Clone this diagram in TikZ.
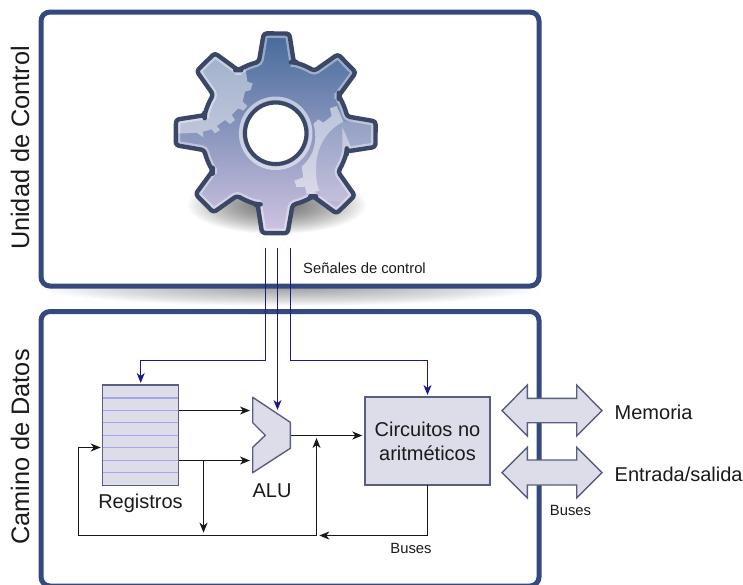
\documentclass[tikz,border=0pt]{standalone}
\usepackage{fontspec}
\setmainfont{Liberation Sans}
\usetikzlibrary{arrows.meta,calc}
\definecolor{boxblue}{HTML}{36497F}
\definecolor{ctrl}{HTML}{1A1A8C}
\definecolor{ink}{HTML}{1A1A1A}
\definecolor{partfill}{HTML}{DCDDE9}
\definecolor{partedge}{HTML}{5A5F80}
\definecolor{regline}{HTML}{A4A4F0}
\definecolor{geardark}{HTML}{3B4766}
\definecolor{geartop}{HTML}{466A9B}
\definecolor{gearmid}{HTML}{8689B4}
\definecolor{gearbot}{HTML}{D0C4E2}
\def\gearpath{({-13.8}:220)
  \foreach \a in {0,45,...,315}{
    -- ({\a-13.8}:220) -- ({\a-7.3}:302) -- ({\a+7.3}:302) -- ({\a+13.8}:220)
    arc[start angle={\a+13.8},end angle={\a+31.2},radius=220]
  } -- cycle}
\tikzset{
  bigbox/.style={draw=boxblue,line width=5pt,rounded corners=9pt,outer sep=0pt},
  part/.style={draw=partedge,fill=partfill,line width=1.4pt,outer sep=0pt},
  ctrlwire/.style={draw=ctrl,line width=1.15pt,-{Stealth[length=10pt,width=8pt,inset=3pt]}},
  wire/.style={draw=black!90,line width=1.15pt,-{Stealth[length=10pt,width=8pt,inset=3pt]}},
  bigtxt/.style={text=ink,font=\fontsize{20}{24}\selectfont,inner sep=0pt},
  sidetxt/.style={text=ink,font=\fontsize{25.3}{30}\selectfont,inner sep=0pt,rotate=90},
  smalltxt/.style={text=ink,font=\fontsize{14.8}{18}\selectfont,inner sep=0pt},
  gearframe/.style={shift={(275.7,133.3)},x=.3333pt,y=.3333pt,rotate=-.5},
  zoomframe/.style={shift={(160,20)},x=.3333pt,y=-.3333pt}
}
\begin{document}
\begin{tikzpicture}[x=1pt,y=-1pt]
\useasboundingbox (0,0) rectangle (743,584);
\clip (0,0) rectangle (743,584);
% shadows
\begin{scope}
  \clip (0,286) rectangle (743,312);
  \foreach \k in {1,...,30}
    \fill[black,opacity=.014] (290,287) ellipse[x radius={250*\k/30},y radius={19*\k/30}];
\end{scope}
\foreach \k in {1,...,30}
  \fill[black,opacity=.026] (277,205) ellipse[x radius={89*\k/30},y radius={29*\k/30}];
% big boxes
\node[bigbox,minimum width=498pt,minimum height=274pt,anchor=north west,inner sep=0pt] (unit) at (41,12) {};
\node[bigbox,minimum width=498pt,minimum height=274.5pt,anchor=north west,inner sep=0pt] (path) at (41,311.5) {};
\node[sidetxt] (unitlabel) at (20,148) {Unidad de Control};
\node[sidetxt] (pathlabel) at (20,447) {Camino de Datos};
% gear
\shade[gearframe,top color=geartop,middle color=gearmid,bottom color=gearbot,rounded corners=3pt] \gearpath;
\begin{scope}
  \clip[gearframe,rounded corners=3pt] \gearpath;
  \begin{scope}[zoomframe]
    % upper left wheel
    \fill[white,opacity=.45] (100,40) -- (240,125) -- (258,155) -- (262,185) -- (278,190) -- (272,210) -- (255,215) -- (248,245) -- (262,258) -- (250,272) -- (235,265) -- (215,285) -- (225,300) -- (210,312) -- (195,300) -- (170,318) -- (180,330) -- (165,340) -- (155,328) -- (128,335) -- (130,352) -- (110,338) -- (75,340) -- (20,340) -- (20,40) -- cycle;
    % lower right wheel
    \fill[white,opacity=.14] (680,300) -- (550,305) .. controls (500,330) and (470,380) .. (468,440) .. controls (468,470) and (470,495) .. (485,540) -- (680,560) -- cycle;
    \fill[white,opacity=.5] (460,312) -- (475,298) -- (490,308) -- (515,288) -- (510,265) -- (530,258) -- (548,300) -- (550,305) .. controls (500,330) and (470,380) .. (468,440) .. controls (468,470) and (470,495) .. (478,512) -- (440,522) -- (435,500) -- (410,502) -- (403,482) -- (430,472) -- (425,440) -- (440,425) .. controls (470,390) and (470,340) .. (460,312) -- cycle;
  \end{scope}
  \draw[gearframe,white,opacity=.4,line width=9pt,rounded corners=3pt] \gearpath;
\end{scope}
\draw[gearframe,geardark,line width=4.4pt,line join=round,rounded corners=3pt] \gearpath;
\draw[white,opacity=.55,line width=3.5pt] (275.7,133.3) circle[radius=35];
\draw[geardark,fill=white,line width=4pt] (275.7,133.3) circle[radius=30.7];
% control signals
\coordinate (sigA) at (265.5,248);
\coordinate (sigB) at (277.5,248);
\coordinate (sigC) at (290.5,248);
\coordinate (regTop) at (140.7,383);
\coordinate (aluTop) at (277.5,410);
\coordinate (circTop) at (427.5,395);
\draw[ctrlwire] (sigA) |- (140.7,360.5) -- (regTop);
\draw[ctrlwire] (sigB) -- (aluTop);
\draw[ctrlwire] (sigC) |- (427.5,360.5) -- (circTop);
\node[smalltxt,anchor=west] (signals) at (303,268) {Señales de control};
% registers
\node[part,minimum width=76pt,minimum height=100.3pt,anchor=north west,inner sep=0pt] (regs) at (102.7,385) {};
\foreach \ly in {398,410.4,422.8,435.3,447.7,460.3,472.7}
  \draw[regline,line width=1.2pt] (103.4,\ly) -- (178,\ly);
\node[bigtxt] (reglabel) at (140.5,503) {Registros};
% ALU
\draw[part,line join=round] (252.7,397.3) coordinate (aluA) -- (290.3,422.3) -- (290.3,448.3) -- (252.7,472.7) -- (252.7,447.3) -- (265.3,435.3) -- (252.7,422.7) -- cycle;
\coordinate (aluIn1) at (250,410.5);
\coordinate (aluIn2) at (250,460.5);
\coordinate (aluOut) at (291,435.5);
\node[bigtxt] (alulabel) at (272,491) {ALU};
% circuits
\node[part,minimum width=125pt,minimum height=88pt,anchor=north west,inner sep=0pt,align=center,text=ink,font=\fontsize{20}{24}\selectfont] (circ) at (365,397) {Circuitos no\\aritméticos};
% data wires
\coordinate (regOut1) at (179,410.5);
\coordinate (regOut2) at (179,460.5);
\coordinate (branch) at (203.5,460.5);
\coordinate (branchEnd) at (203.5,532.7);
\coordinate (regIn) at (100.7,447.5);
\coordinate (loopR) at (316.5,535.5);
\coordinate (loopUp) at (316.5,438);
\coordinate (circIn) at (362.3,435.5);
\coordinate (circBot) at (427.5,485);
\coordinate (retEnd) at (319.3,535.5);
\draw[wire] (regOut1) -- (aluIn1);
\draw[wire] (regOut2) -- (aluIn2);
\draw[wire] (branch) -- (branchEnd);
\draw[wire] (loopR) -- (78.5,535.5) -- (78.5,447.5) -- (regIn);
\draw[wire] (loopR) -- (loopUp);
\draw[wire] (aluOut) -- (circIn);
\draw[wire] (circBot) |- (retEnd);
\node[smalltxt] (busesA) at (411,548) {Buses};
% double arrows
\draw[part,line join=miter] (502,410.7) -- (527.3,385) -- (527.3,398.3) -- (576.7,398.3) -- (576.7,385) -- (602,410.7) -- (576.7,436) -- (576.7,422.7) -- (527.3,422.7) -- (527.3,436) -- cycle;
\draw[part,line join=miter] (502,472.7) -- (527.3,447.3) -- (527.3,460) -- (576.7,460) -- (576.7,447.3) -- (602,472.7) -- (576.7,498) -- (576.7,485) -- (527.3,485) -- (527.3,498) -- cycle;
\node[bigtxt,anchor=west] (mem) at (614.5,412) {Memoria};
\node[bigtxt,anchor=west] (io) at (614.5,474) {Entrada/salida};
\node[smalltxt] (busesB) at (570.5,510) {Buses};
\end{tikzpicture}
\end{document}
